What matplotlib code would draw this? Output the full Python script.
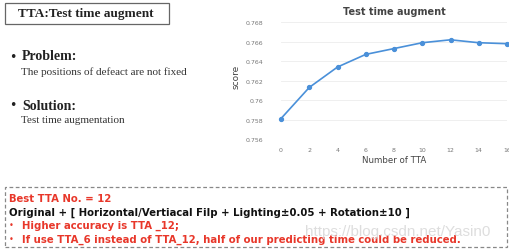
import matplotlib.pyplot as plt
from matplotlib.patches import Rectangle
from matplotlib.ticker import FuncFormatter

# TTA count vs score
n_tta = [0, 2, 4, 6, 8, 10, 12, 14, 16]
score = [0.7581, 0.7613, 0.7634, 0.7647, 0.7653, 0.7659, 0.7662, 0.7659, 0.7658]
yticks = [0.756, 0.758, 0.760, 0.762, 0.764, 0.766, 0.768]

red = '#e8372a'
W, H = 509, 251

fig = plt.figure(figsize=(W / 100, H / 100), dpi=100)
fig.patch.set_facecolor('white')


def fx(px):
    return px / W


def fy(py):
    return 1 - py / H


# ---- chart ----
ax = fig.add_axes([fx(281), fy(140), fx(507) - fx(281), fy(23.3) - fy(140)])
ax.plot(n_tta, score, color='#4a90d9', linewidth=1.2, marker='o', markersize=2.8, clip_on=False)
ax.set_xlim(0, 16)
ax.set_ylim(0.756, 0.768)
ax.set_xticks(n_tta)
ax.set_yticks(yticks)
ax.yaxis.set_major_formatter(FuncFormatter(lambda v, p: ('%.3f' % v).rstrip('0')))
ax.grid(axis='y', color='#ececec', linewidth=0.6)
for s in ax.spines.values():
    s.set_visible(False)
ax.tick_params(length=0, labelsize=4.5, labelcolor='#777777')
ax.tick_params(axis='x', pad=6)
ax.tick_params(axis='y', pad=13)
ax.set_xlabel('Number of TTA', fontsize=6.2, color='#444444', labelpad=2)
ax.set_ylabel('score', fontsize=6.5, color='#444444')
ax.yaxis.set_label_coords(-0.18, 0.54)
ax.set_title('Test time augment', fontsize=7, color='#444444', fontweight='bold', pad=6)

# ---- left side text ----
fig.add_artist(Rectangle((fx(5), fy(24.5)), fx(169) - fx(5), fy(4) - fy(24.5),
                         transform=fig.transFigure, fill=False, edgecolor='#666666', linewidth=0.9))
fig.text(fx(86), fy(14.5), 'TTA:Test time augment', fontsize=9.5, fontweight='bold',
         family='Liberation Serif', ha='center', va='center', color='#222222')

fig.text(fx(9), fy(57), u'\u2022', fontsize=9, ha='left', va='center', color='#222222')
fig.text(fx(22), fy(57), 'Problem:', fontsize=10, fontweight='bold', family='Liberation Serif',
         va='center', color='#222222')
fig.text(fx(21), fy(72), 'The positions of defeact are not fixed', fontsize=8,
         family='Liberation Serif', va='center', color='#333333')

fig.text(fx(9), fy(106), u'\u2022', fontsize=9, ha='left', va='center', color='#222222')
fig.text(fx(22), fy(106), 'Solution:', fontsize=10, fontweight='bold', family='Liberation Serif',
         va='center', color='#222222')
fig.text(fx(21), fy(120.5), 'Test time augmentation', fontsize=8,
         family='Liberation Serif', va='center', color='#333333')

# ---- bottom dashed box ----
fig.add_artist(Rectangle((fx(5), fy(248)), fx(507) - fx(5), fy(188) - fy(248),
                         transform=fig.transFigure, fill=False, edgecolor='#888888',
                         linewidth=0.9, linestyle=(0, (3, 2))))
fig.text(fx(9), fy(199), 'Best TTA No. = 12', fontsize=7.3, fontweight='bold', color=red, va='center')
fig.text(fx(9), fy(212.5), u'Original + [ Horizontal/Vertiacal Filp + Lighting\u00b10.05 + Rotation\u00b110 ]',
         fontsize=7.3, fontweight='bold', color='#111111', va='center')
fig.text(fx(9), fy(226), u'\u2022', fontsize=6, color=red, va='center')
fig.text(fx(22), fy(226), 'Higher accuracy is TTA _12;', fontsize=7.3, fontweight='bold', color=red, va='center')
fig.text(fx(9), fy(239.5), u'\u2022', fontsize=6, color=red, va='center')
fig.text(fx(22), fy(239.5), 'If use TTA_6 instead of TTA_12, half of our predicting time could be reduced.',
         fontsize=7.3, fontweight='bold', color=red, va='center')

# watermark
fig.text(fx(305), fy(232), 'https://blog.csdn.net/Yasin0', fontsize=11, color='#d8d8d8',
         family='Liberation Sans', va='center', alpha=0.85)

fig.savefig('out.png', dpi=100)
